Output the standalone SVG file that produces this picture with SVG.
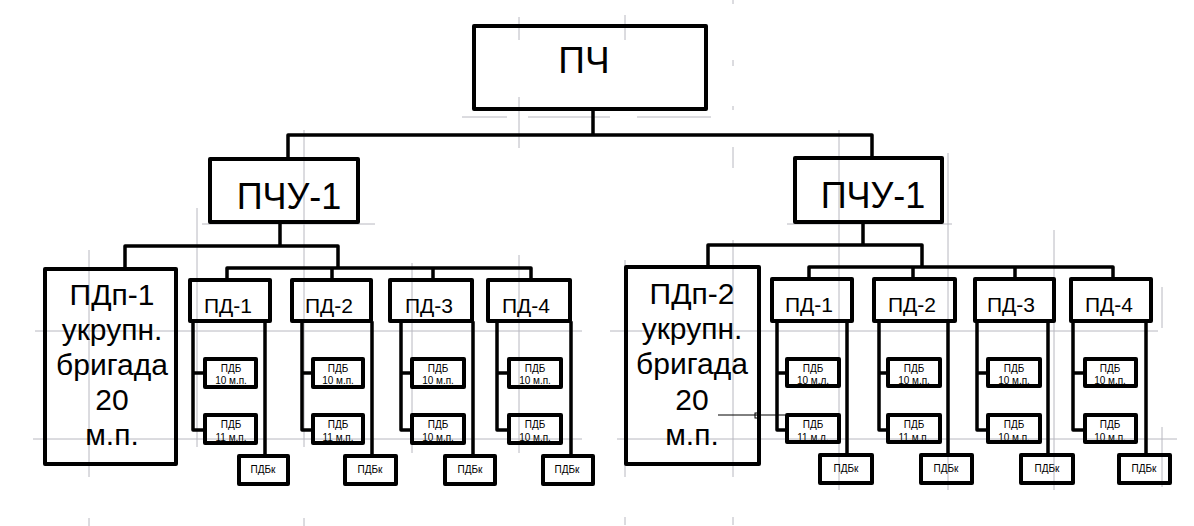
<svg xmlns="http://www.w3.org/2000/svg" width="1194" height="526" viewBox="0 0 1194 526">
<style>
.box{fill:none;stroke:#000;stroke-width:4;stroke-linejoin:round}
.ln{fill:none;stroke:#000;stroke-width:3.5;stroke-linejoin:round;stroke-linecap:square}
.thin{fill:none;stroke:#000;stroke-width:1}
.g{fill:none;stroke:#b8b8c0;stroke-width:1}
text{font-family:"Liberation Sans",Arial,sans-serif;text-anchor:middle;fill:#000}
.t1{font-size:37px}
.t2{font-size:36px}
.t3{font-size:30px}
.t4{font-size:21px}
.t5{font-size:10px}
</style>
<rect width="1194" height="526" fill="#fff"/>
<g id="grid" class="g">
<path d="M462 117H507M528 117H610M637 117H711"/>
<path d="M202 224H375M787 224H952"/>
<path d="M35 331H582M610 331H1158"/>
<path d="M33 439H582M617 439H1177"/>
<path d="M89 250V477M89 518V526"/>
<path d="M197 208V447"/>
<path d="M304 130V447M304 518V526"/>
<path d="M412 263V453"/>
<path d="M519 17V40M519 97V148M519 255V453"/>
<path d="M625 15V40M625 260V477M625 517V525"/>
<path d="M733 0V4M733 60V66M733 106V110M733 147V168M733 240V477M733 517V525"/>
<path d="M839 130V490"/>
<path d="M948 153V490"/>
<path d="M1054 230V490"/>
<path d="M1162 287V328M1162 427V487"/>
</g>
<g id="connectors">
<path class="ln" d="M593 111V135M288 157V135H872V156"/>
<path class="ln" d="M280 224V246M125 267V246H338V268M227 278V268H531V278M332 268V278M433 268V278"/>
<path class="ln" d="M863 224V245M708 266V245H922V267M809 277V267H1113V277M913 267V277M1015 267V277"/>
<path class="ln" d="M193 323V430H203M193 373H203M265 323V454"/>
<path class="ln" d="M302 323V430H311M302 373H311M372 323V454"/>
<path class="ln" d="M401 323V430H410M401 373H410M473 323V454"/>
<path class="ln" d="M497 323V430H507M497 373H507M571 323V454"/>
<path class="ln" d="M777 323V430H785M777 373H785M847 323V453"/>
<path class="ln" d="M879 323V430H886M879 373H886M948 323V453"/>
<path class="ln" d="M977 323V430H986M977 373H986M1048 323V453"/>
<path class="ln" d="M1073 323V430H1083M1073 373H1083M1146 323V453"/>
<path class="thin" d="M718 415H785"/>
<rect class="thin" x="755" y="413" width="4" height="5"/>
</g>
<g id="pch"><rect class="box" x="474" y="26" width="232" height="83"/><text class="t1" x="584" y="73">ПЧ</text></g>
<g id="pchu-left"><rect class="box" x="210" y="159" width="148" height="63"/><text class="t2" x="289" y="209">ПЧУ-1</text></g>
<g id="pchu-right"><rect class="box" x="795" y="158" width="147" height="64"/><text class="t2" x="873" y="208">ПЧУ-1</text></g>
<g id="pdp1"><rect class="box" x="45" y="269" width="131" height="195"/>
<text class="t3" x="112"><tspan x="112" y="305">ПДп-1</tspan><tspan x="112" y="340">укрупн.</tspan><tspan x="112" y="375">бригада</tspan><tspan x="112" y="410">20</tspan><tspan x="112" y="445">м.п.</tspan></text></g>
<g id="pdp2"><rect class="box" x="626" y="267" width="133" height="197"/>
<text class="t3" x="692"><tspan x="692" y="304">ПДп-2</tspan><tspan x="692" y="339">укрупн.</tspan><tspan x="692" y="374">бригада</tspan><tspan x="692" y="410">20</tspan><tspan x="692" y="445">м.п.</tspan></text></g>

<g id="l-pd1"><rect class="box" x="190" y="280" width="80" height="41"/><text class="t4" x="228" y="313">ПД-1</text></g>
<g id="l-pd1-b1"><text class="t5" x="231" y="372">ПДБ</text><text class="t5" x="231" y="384">10 м.п.</text><rect class="box" x="205" y="359" width="51" height="28"/></g>
<g id="l-pd1-b2"><text class="t5" x="231" y="428">ПДБ</text><text class="t5" x="231" y="441">11 м.п.</text><rect class="box" x="205" y="415" width="51" height="28"/></g>
<g id="l-pd1-k"><rect class="box" x="239" y="456" width="49" height="28"/><text class="t5" x="263" y="473">ПДБк</text></g>

<g id="l-pd2"><rect class="box" x="292" y="280" width="79" height="41"/><text class="t4" x="329" y="313">ПД-2</text></g>
<g id="l-pd2-b1"><text class="t5" x="338" y="372">ПДБ</text><text class="t5" x="338" y="384">10 м.п.</text><rect class="box" x="313" y="359" width="50" height="28"/></g>
<g id="l-pd2-b2"><text class="t5" x="338" y="428">ПДБ</text><text class="t5" x="338" y="441">11 м.п.</text><rect class="box" x="313" y="415" width="50" height="28"/></g>
<g id="l-pd2-k"><rect class="box" x="345" y="456" width="51" height="28"/><text class="t5" x="370" y="473">ПДБк</text></g>

<g id="l-pd3"><rect class="box" x="390" y="280" width="82" height="41"/><text class="t4" x="429" y="313">ПД-3</text></g>
<g id="l-pd3-b1"><text class="t5" x="438" y="372">ПДБ</text><text class="t5" x="438" y="384">10 м.п.</text><rect class="box" x="412" y="359" width="52" height="28"/></g>
<g id="l-pd3-b2"><text class="t5" x="438" y="428">ПДБ</text><text class="t5" x="438" y="441">10 м.п.</text><rect class="box" x="412" y="415" width="52" height="28"/></g>
<g id="l-pd3-k"><rect class="box" x="445" y="456" width="50" height="28"/><text class="t5" x="470" y="473">ПДБк</text></g>

<g id="l-pd4"><rect class="box" x="488" y="280" width="82" height="41"/><text class="t4" x="526" y="313">ПД-4</text></g>
<g id="l-pd4-b1"><text class="t5" x="535" y="372">ПДБ</text><text class="t5" x="535" y="384">10 м.п.</text><rect class="box" x="509" y="359" width="52" height="28"/></g>
<g id="l-pd4-b2"><text class="t5" x="535" y="428">ПДБ</text><text class="t5" x="535" y="441">10 м.п.</text><rect class="box" x="509" y="415" width="52" height="28"/></g>
<g id="l-pd4-k"><rect class="box" x="543" y="456" width="50" height="28"/><text class="t5" x="567" y="473">ПДБк</text></g>

<g id="r-pd1"><rect class="box" x="772" y="279" width="80" height="42"/><text class="t4" x="809" y="312">ПД-1</text></g>
<g id="r-pd1-b1"><text class="t5" x="813" y="372">ПДБ</text><text class="t5" x="813" y="384">10 м.л.</text><rect class="box" x="787" y="359" width="52" height="27"/></g>
<g id="r-pd1-b2"><text class="t5" x="813" y="428">ПДБ</text><text class="t5" x="813" y="441">11 м.л.</text><rect class="box" x="787" y="415" width="52" height="27"/></g>
<g id="r-pd1-k"><rect class="box" x="820" y="455" width="52" height="28"/><text class="t5" x="846" y="472">ПДБк</text></g>

<g id="r-pd2"><rect class="box" x="874" y="279" width="81" height="42"/><text class="t4" x="912" y="312">ПД-2</text></g>
<g id="r-pd2-b1"><text class="t5" x="914" y="372">ПДБ</text><text class="t5" x="914" y="384">10 м.п.</text><rect class="box" x="888" y="359" width="52" height="27"/></g>
<g id="r-pd2-b2"><text class="t5" x="914" y="428">ПДБ</text><text class="t5" x="914" y="441">11 м.п.</text><rect class="box" x="888" y="415" width="52" height="27"/></g>
<g id="r-pd2-k"><rect class="box" x="921" y="455" width="51" height="28"/><text class="t5" x="946" y="472">ПДБк</text></g>

<g id="r-pd3"><rect class="box" x="975" y="279" width="79" height="42"/><text class="t4" x="1011" y="312">ПД-3</text></g>
<g id="r-pd3-b1"><text class="t5" x="1014" y="372">ПДБ</text><text class="t5" x="1014" y="384">10 м.п.</text><rect class="box" x="988" y="359" width="52" height="27"/></g>
<g id="r-pd3-b2"><text class="t5" x="1014" y="428">ПДБ</text><text class="t5" x="1014" y="441">10 м.п.</text><rect class="box" x="988" y="415" width="52" height="27"/></g>
<g id="r-pd3-k"><rect class="box" x="1021" y="455" width="52" height="28"/><text class="t5" x="1047" y="472">ПДБк</text></g>

<g id="r-pd4"><rect class="box" x="1071" y="279" width="80" height="42"/><text class="t4" x="1109" y="312">ПД-4</text></g>
<g id="r-pd4-b1"><text class="t5" x="1110" y="372">ПДБ</text><text class="t5" x="1110" y="384">10 м.п.</text><rect class="box" x="1085" y="359" width="51" height="27"/></g>
<g id="r-pd4-b2"><text class="t5" x="1110" y="428">ПДБ</text><text class="t5" x="1110" y="441">10 м.п.</text><rect class="box" x="1085" y="415" width="51" height="27"/></g>
<g id="r-pd4-k"><rect class="box" x="1119" y="455" width="51" height="28"/><text class="t5" x="1144" y="472">ПДБк</text></g>
</svg>
